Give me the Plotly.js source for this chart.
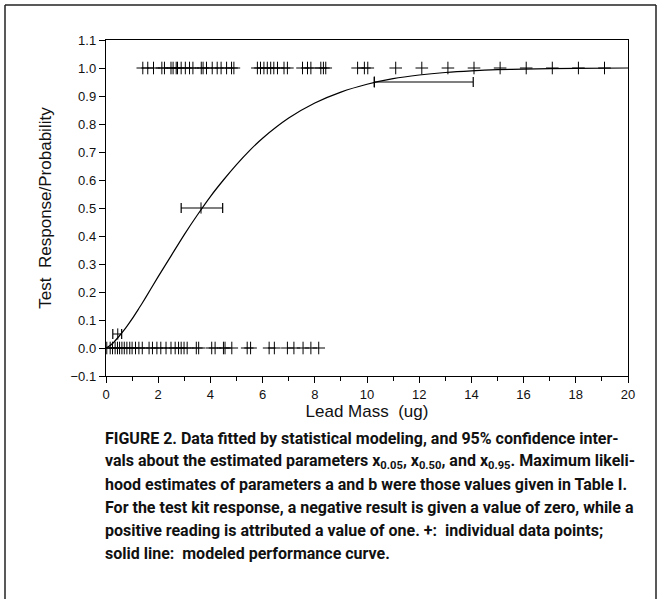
<!DOCTYPE html>
<html>
<head>
<meta charset="utf-8">
<script src="https://cdn.plot.ly/plotly-3.0.1.min.js"></script>
<style>html,body{margin:0;padding:0;background:#fff;}#chart{width:664px;height:599px;}</style>
</head>
<body>
<div id="chart"></div>
<script>
// Positive responses (y = 1)
const posX = [1.41,1.60,1.82,2.14,2.24,2.49,2.57,2.69,2.74,2.88,3.04,3.20,3.33,3.65,3.72,3.85,4.07,4.26,4.41,4.62,4.81,4.90,
  5.80,5.92,6.05,6.18,6.31,6.43,6.57,6.82,6.95,
  7.53,7.72,7.85,8.23,8.33,8.42,
  9.64,9.90,10.03,
  11.1,12.1,13.1,14.1,15.1,16.1,17.1,18.1,19.1];
const posY = posX.map(() => 1.0);
// Negative responses (y = 0)
const negX = [0.03,0.16,0.25,0.35,0.44,0.52,0.61,0.70,0.80,0.91,1.00,1.13,1.26,1.39,1.65,1.78,1.95,2.10,2.30,2.49,2.65,2.78,2.88,2.99,3.11,3.46,3.55,4.05,4.18,4.50,4.56,4.82,5.41,5.54,
  6.25,6.45,6.95,7.20,7.55,7.85,8.15];
const negY = negX.map(() => 0.0);
// Modeled performance curve
const curveX = [0,0.1,0.25,0.5,0.75,1,1.25,1.5,2,2.5,3,3.5,4,4.5,5,5.5,6,7,8,9,10,11,12,13,14,15,16,18,20];
const curveY = [0,0.005,0.016,0.042,0.071,0.104,0.14,0.177,0.255,0.33,0.405,0.475,0.541,0.6,0.655,0.705,0.749,0.821,0.875,0.914,0.942,0.962,0.975,0.984,0.99,0.994,0.996,0.999,1.0];
// Confidence intervals for x0.05, x0.50, x0.95
const ciY = [0.05, 0.5, 0.95];
const ciEst = [0.45, 3.64, 10.28];
const ciLow = [0.26, 2.88, 10.28];
const ciHigh = [0.60, 4.47, 14.07];

const traces = [
  {x: curveX, y: curveY, type: 'scatter', mode: 'lines', line: {color: '#000', width: 1.2, shape: 'spline', smoothing: 0.6}, hoverinfo: 'skip'},
  {x: posX, y: posY, type: 'scatter', mode: 'markers', marker: {symbol: 'cross-thin', size: 9, line: {color: '#000', width: 1}}},
  {x: negX, y: negY, type: 'scatter', mode: 'markers', marker: {symbol: 'cross-thin', size: 9, line: {color: '#000', width: 1}}},
  {x: ciEst, y: ciY, type: 'scatter', mode: 'markers',
   marker: {symbol: 'line-ns', size: 8, line: {color: '#000', width: 1}},
   error_x: {type: 'data', symmetric: false,
     array: ciHigh.map((h, i) => h - ciEst[i]),
     arrayminus: ciLow.map((l, i) => ciEst[i] - l),
     color: '#000', thickness: 1.2, width: 5}}
];

const W = 522, H = 336;
const px = p => (p - 106) / W;
const py = p => (376 - p) / H;
const capLines = [
  'FIGURE 2. Data fitted by statistical modeling, and 95% confidence inter-',
  'vals about the estimated parameters x<sub>0.05</sub>, x<sub>0.50</sub>, and x<sub>0.95</sub>. Maximum likeli-',
  'hood estimates of parameters a and b were those values given in Table I.',
  'For the test kit response, a negative result is given a value of zero, while a',
  'positive reading is attributed a value of one. +:  individual data points;',
  'solid line:  modeled performance curve.'
];
const annotations = capLines.map((t, i) => ({
  text: '<b>' + t + '</b>', xref: 'paper', yref: 'paper', x: px(103), y: py(438 + i * 23),
  xanchor: 'left', yanchor: 'middle', showarrow: false, align: 'left',
  font: {family: 'Roboto, sans-serif', size: 16, color: '#111'}
}));

const shapes = [
  {type: 'line', xref: 'paper', yref: 'paper', x0: px(5), x1: px(5), y0: py(5), y1: py(599), line: {color: '#222', width: 1.5}},
  {type: 'line', xref: 'paper', yref: 'paper', x0: px(5), x1: px(656), y0: py(5), y1: py(5), line: {color: '#222', width: 1.5}},
  {type: 'line', xref: 'paper', yref: 'paper', x0: px(656), x1: px(656), y0: py(5), y1: py(599), line: {color: '#222', width: 1.5}}
];

const layout = {
  width: 664, height: 599,
  margin: {l: 106, r: 36, t: 40, b: 223},
  paper_bgcolor: '#fff', plot_bgcolor: '#fff',
  showlegend: false,
  font: {family: 'Liberation Sans, Arial, sans-serif', color: '#111', size: 12},
  xaxis: {
    range: [0, 20], dtick: 2, tick0: 0, ticks: 'outside', ticklen: 6, tickwidth: 1, tickcolor: '#000',
    showline: true, linecolor: '#000', linewidth: 1.2, mirror: true, showgrid: false, zeroline: false,
    minor: {dtick: 1, tick0: 0, ticks: 'outside', ticklen: 4, tickcolor: '#000', showgrid: false},
    tickfont: {size: 13},
    title: {text: 'Lead Mass  (ug)', font: {size: 17}, standoff: 4}
  },
  yaxis: {
    range: [-0.1, 1.1], dtick: 0.1, tick0: 0, tickformat: '.1f', ticks: 'outside', ticklen: 6, tickwidth: 1, tickcolor: '#000',
    showline: true, linecolor: '#000', linewidth: 1.2, mirror: true, showgrid: false, zeroline: false,
    tickfont: {size: 13},
    title: {text: 'Test  Response/Probability', font: {size: 17}, standoff: 14}
  },
  annotations: annotations,
  shapes: shapes
};
Plotly.newPlot('chart', traces, layout, {staticPlot: true});
</script>
</body>
</html>
